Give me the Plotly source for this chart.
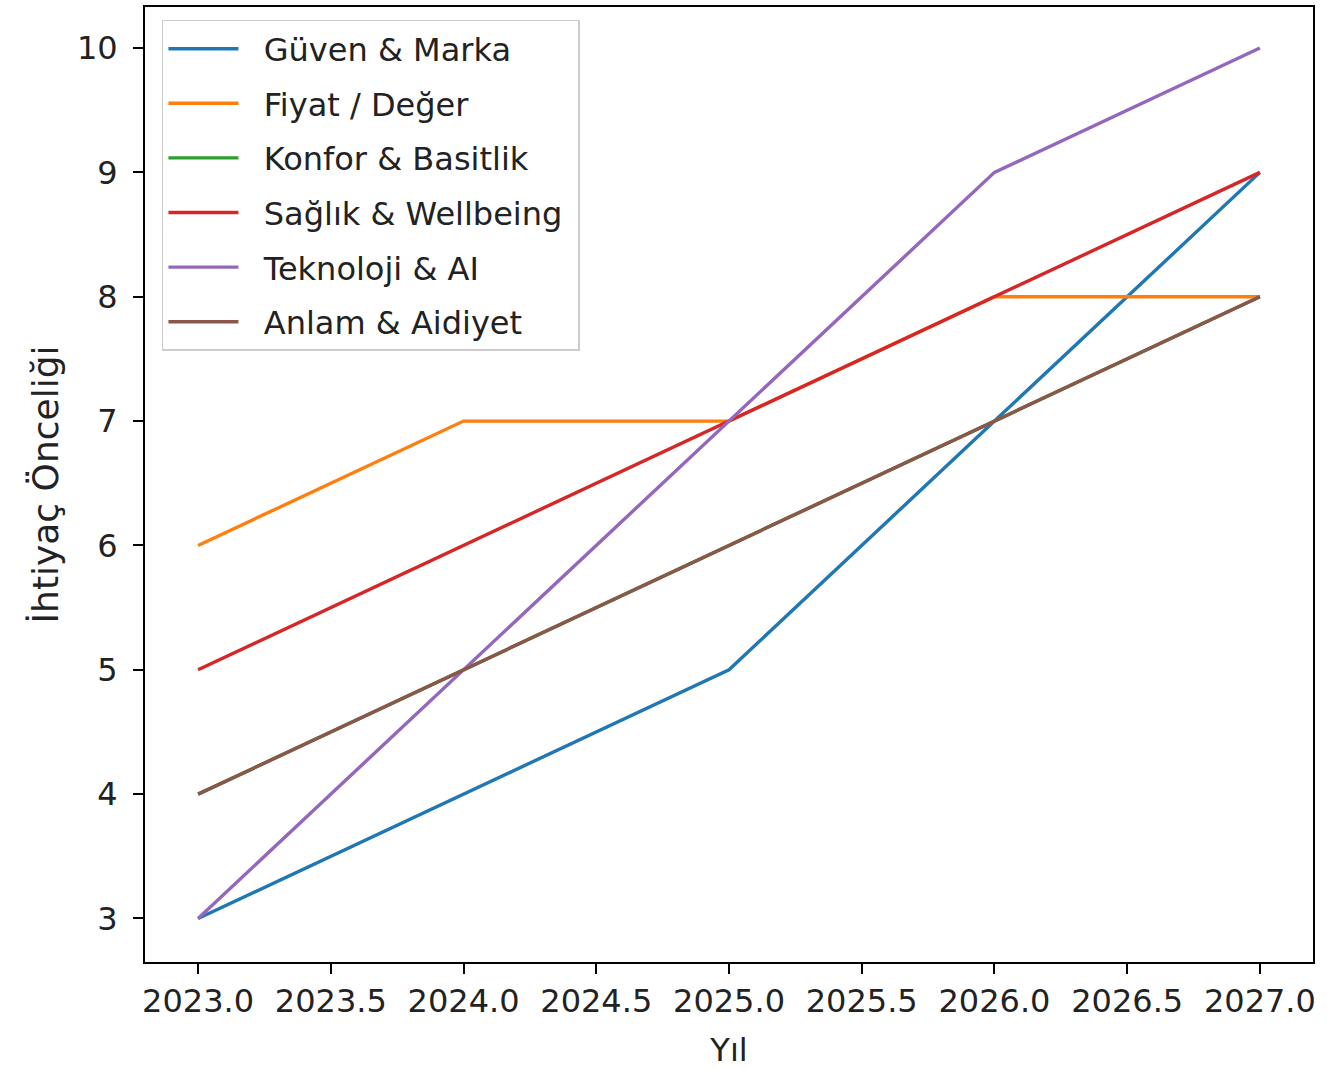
import plotly.graph_objects as go

years = [2023, 2024, 2025, 2026, 2027]
guven = [3, 4, 5, 7, 9]
fiyat = [6, 7, 7, 8, 8]
konfor = [4, 5, 6, 7, 8]
saglik = [5, 6, 7, 8, 9]
teknoloji = [3, 5, 7, 9, 10]
anlam = [4, 5, 6, 7, 8]

series = [
    ("Güven & Marka", guven, "#1f77b4"),
    ("Fiyat / Değer", fiyat, "#ff7f0e"),
    ("Konfor & Basitlik", konfor, "#2ca02c"),
    ("Sağlık & Wellbeing", saglik, "#d62728"),
    ("Teknoloji & AI", teknoloji, "#9467bd"),
    ("Anlam & Aidiyet", anlam, "#8c564b"),
]

fig = go.Figure()
for i, (name, vals, color) in enumerate(series):
    fig.add_trace(go.Scatter(x=years, y=vals, mode="lines", name="\u00a0\u00a0" + name + "\u00a0",
                             line=dict(color=color, width=3.4), legendgroup=f"g{i}"))

font = "DejaVu Sans, sans-serif"
txt = "#222222"
axis_common = dict(showline=True, linecolor="black", linewidth=2, mirror=True,
                   ticks="outside", ticklen=10, tickwidth=1.5, tickcolor="black",
                   showgrid=False, zeroline=False,
                   tickfont=dict(family=font, size=32, color=txt))
fig.update_xaxes(range=[2022.8, 2027.2], tickvals=[2023 + 0.5 * k for k in range(9)],
                 ticktext=[f"{2023 + 0.5 * k:.1f}" for k in range(9)],
                 title=dict(text="Yıl", font=dict(family=font, size=32, color=txt), standoff=19),
                 **axis_common)
fig.update_yaxes(range=[2.65, 10.33], tickvals=list(range(3, 11)), ticklabelstandoff=9,
                 title=dict(text="İhtiyaç Önceliği", font=dict(family=font, size=36, color=txt), standoff=7),
                 **axis_common)

fig.update_layout(
    width=1341, height=1069,
    margin=dict(l=145, r=28, t=5, b=107),
    plot_bgcolor="white", paper_bgcolor="white",
    showlegend=True,
    legend=dict(x=0.0145, y=0.9865, xanchor="left", yanchor="top",
                bgcolor="rgba(255,255,255,0.8)", bordercolor="#cccccc", borderwidth=1.5,
                font=dict(family=font, size=32, color=txt),
                itemwidth=70, tracegroupgap=10),
)

fig.write_html("out.html", config={"displayModeBar": False},
               post_script="document.body.style.margin='0';")
